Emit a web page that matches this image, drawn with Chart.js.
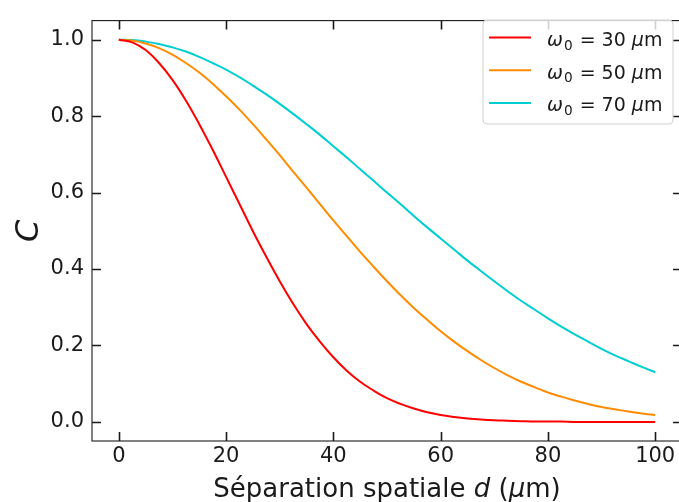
<!DOCTYPE html>
<html>
<head>
<meta charset="utf-8">
<script src="https://cdn.jsdelivr.net/npm/chart.js@4"></script>
<style>
  html, body { margin: 0; padding: 0; background: #fff; overflow: hidden; }
  #wrap { width: 690px; height: 502px; }
</style>
</head>
<body>
<div id="wrap"><canvas id="chart" width="690" height="502"></canvas></div>
<script>
/* Kontrast C gegen Separation d, drei Strahltaillen */
const D_VALUES = [0, 2.5, 5, 7.5, 10, 12.5, 15, 17.5, 20, 22.5, 25, 27.5, 30, 32.5, 35, 37.5, 40,
                  42.5, 45, 47.5, 50, 52.5, 55, 57.5, 60, 62.5, 65, 67.5, 70, 72.5, 75, 77.5, 80,
                  82.5, 85, 87.5, 90, 92.5, 95, 97.5, 100];
const WAISTS = [30, 50, 70];
const C_W30 = [1.000, 0.993, 0.973, 0.939, 0.895, 0.841, 0.779, 0.712, 0.641, 0.570, 0.499,
               0.432, 0.368, 0.309, 0.256, 0.210, 0.169, 0.134, 0.105, 0.082, 0.062, 0.047,
               0.035, 0.025, 0.018, 0.013, 0.009, 0.006, 0.004, 0.003, 0.002, 0.001, 0.001,
               0.001, 0.000, 0.000, 0.000, 0.000, 0.000, 0.000, 0.000];
const C_W50 = [1.000, 0.998, 0.990, 0.978, 0.961, 0.939, 0.914, 0.885, 0.852, 0.817, 0.779,
               0.739, 0.698, 0.655, 0.613, 0.570, 0.527, 0.486, 0.445, 0.406, 0.368, 0.332,
               0.298, 0.267, 0.237, 0.210, 0.185, 0.162, 0.141, 0.122, 0.105, 0.091, 0.077,
               0.066, 0.056, 0.047, 0.039, 0.033, 0.027, 0.022, 0.018];
const C_W70 = [1.000, 0.999, 0.995, 0.989, 0.980, 0.969, 0.955, 0.939, 0.922, 0.902, 0.880,
               0.857, 0.832, 0.806, 0.779, 0.751, 0.721, 0.692, 0.661, 0.631, 0.600, 0.570,
               0.539, 0.509, 0.480, 0.451, 0.422, 0.395, 0.368, 0.342, 0.317, 0.294, 0.271,
               0.249, 0.229, 0.210, 0.191, 0.174, 0.159, 0.144, 0.130];
const X_TICKS = [0, 20, 40, 60, 80, 100];
const Y_TICKS = [0.0, 0.2, 0.4, 0.6, 0.8, 1.0];

const COLORS = ["#ff0000", "#ff8c00", "#00ced1"];
const FONT = "'DejaVu Sans', sans-serif";
const INK = "#1a1a1a";
const TICK_SIZE = 21;

const SERIES = [C_W30, C_W50, C_W70];

// gemischte Schrift (normal / kursiv / tiefgestellt) nacheinander zeichnen
function partsWidth(ctx, parts) {
  let w = 0;
  parts.forEach((p) => {
    ctx.font = (p.italic ? "italic " : "") + p.size + "px " + FONT;
    w += ctx.measureText(p.t).width + (p.gap || 0);
  });
  return w;
}
function drawParts(ctx, parts, x, y) {
  ctx.textBaseline = "alphabetic";
  ctx.textAlign = "left";
  parts.forEach((p) => {
    ctx.font = (p.italic ? "italic " : "") + p.size + "px " + FONT;
    ctx.fillText(p.t, x, y + (p.dy || 0));
    x += ctx.measureText(p.t).width + (p.gap || 0);
  });
}
function legendParts(w) {
  const s = 19;
  return [
    { t: "ω", italic: true, size: s, gap: 1 },
    { t: "0", size: s * 0.72, dy: 3.5, gap: 1 },
    { t: " = " + w + " ", size: s },
    { t: "μ", italic: true, size: s },
    { t: "m", size: s },
  ];
}

const frame = {
  id: "frame",
  afterDatasetsDraw(chart) {
    const { ctx, chartArea: a, scales } = chart;
    ctx.save();
    // Rahmen
    ctx.strokeStyle = INK;
    ctx.lineWidth = 1.1;
    ctx.strokeRect(a.left, a.top, a.right - a.left, a.bottom - a.top);
    // Ticks nach innen, auf allen vier Seiten
    const len = 9;
    ctx.lineWidth = 1.6;
    ctx.beginPath();
    X_TICKS.forEach((v) => {
      const px = Math.round(scales.x.getPixelForValue(v)) + 0.5;
      ctx.moveTo(px, a.bottom); ctx.lineTo(px, a.bottom - len);
      ctx.moveTo(px, a.top); ctx.lineTo(px, a.top + len);
    });
    Y_TICKS.forEach((v) => {
      const py = Math.round(scales.y.getPixelForValue(v)) + 0.5;
      ctx.moveTo(a.left, py); ctx.lineTo(a.left + len, py);
      ctx.moveTo(a.right, py); ctx.lineTo(a.right - len, py);
    });
    ctx.stroke();

    // Legende oben rechts
    const bx = 483, by = 20, bw = 190, bh = 104;
    ctx.beginPath();
    ctx.roundRect(bx, by, bw, bh, 4);
    ctx.fillStyle = "rgba(255,255,255,0.8)";
    ctx.fill();
    ctx.strokeStyle = "#d0d0d0";
    ctx.lineWidth = 1;
    ctx.stroke();
    WAISTS.forEach((w, i) => {
      const cy = 37.5 + i * 32.7;
      ctx.strokeStyle = COLORS[i];
      ctx.lineWidth = 2;
      ctx.beginPath();
      ctx.moveTo(489, cy); ctx.lineTo(531, cy);
      ctx.stroke();
      ctx.fillStyle = INK;
      drawParts(ctx, legendParts(w), 547, cy + 8.5);
    });

    // Achsentitel
    const xParts = [
      { t: "Séparation spatiale ", size: 26 },
      { t: "d", italic: true, size: 26 },
      { t: " (", size: 26 },
      { t: "μ", italic: true, size: 26 },
      { t: "m)", size: 26 },
    ];
    const cx = (a.left + a.right) / 2;
    drawParts(ctx, xParts, cx - partsWidth(ctx, xParts) / 2, 497);

    ctx.translate(38, (a.top + a.bottom) / 2);
    ctx.rotate(-Math.PI / 2);
    ctx.font = "italic 32px " + FONT;
    ctx.textAlign = "center";
    ctx.textBaseline = "alphabetic";
    ctx.fillText("C", 0, 0);
    ctx.restore();
  },
};

new Chart(document.getElementById("chart"), {
  type: "line",
  data: {
    datasets: SERIES.map((vals, i) => ({
      label: "ω0 = " + WAISTS[i] + " μm",
      data: D_VALUES.map((d, j) => ({ x: d, y: vals[j] })),
      borderColor: COLORS[i],
      borderWidth: 2,
      pointRadius: 0,
      tension: 0.4,
      fill: false,
    })),
  },
  options: {
    responsive: false,
    animation: false,
    devicePixelRatio: 1,
    layout: { padding: { top: 10, right: 8, left: 0, bottom: 0 } },
    plugins: { legend: { display: false }, tooltip: { enabled: false } },
    scales: {
      x: {
        type: "linear",
        min: -5,
        max: 105,
        grid: { display: false, drawTicks: false, tickLength: 0 },
        border: { display: false },
        afterBuildTicks: (s) => { s.ticks = X_TICKS.map((v) => ({ value: v })); },
        afterFit: (s) => { s.height = 61; },
        ticks: {
          color: INK,
          padding: 3,
          maxRotation: 0,
          font: { family: FONT, size: TICK_SIZE },
          callback: (v) => String(v),
        },
      },
      y: {
        type: "linear",
        min: -0.05,
        max: 1.05,
        grid: { display: false, drawTicks: false, tickLength: 0 },
        border: { display: false },
        afterBuildTicks: (s) => { s.ticks = Y_TICKS.map((v) => ({ value: v })); },
        afterFit: (s) => { s.width = 92; },
        ticks: {
          color: INK,
          padding: 8,
          font: { family: FONT, size: TICK_SIZE },
          callback: (v) => Number(v).toFixed(1),
        },
      },
    },
  },
  plugins: [frame],
});
</script>
</body>
</html>
